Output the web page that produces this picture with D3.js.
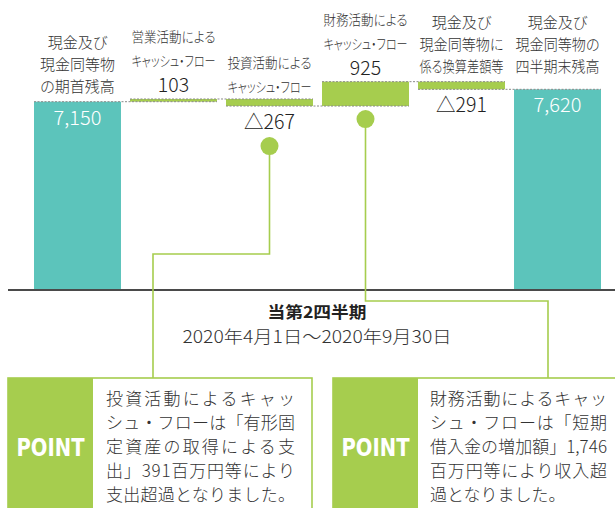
<!DOCTYPE html>
<html>
<head>
<meta charset="utf-8">
<title>キャッシュ・フロー</title>
<script src="https://d3js.org/d3.v7.min.js"></script>
<style>
 body { margin: 0; background: #fff; }
 svg text { font-family: "Noto Sans CJK JP", "Noto Sans", sans-serif; fill: #333; font-weight: 300; }
 .cat { font-feature-settings: "palt"; }
 .val { font-size: 19.5px; fill: #222; }
 .inval { font-size: 20px; fill: #fff; }
 .point { font-family: "Liberation Sans Narrow", "DejaVu Sans Condensed", "Roboto", sans-serif; font-weight: bold !important; fill: #fff; font-size: 25px; }
 .note { font-size: 17px; }
</style>
</head>
<body>
<div id="chart"></div>
<script>
// data
var cats = ["期首残高", "営業CF", "投資CF", "財務CF", "換算差額", "期末残高"];
var catLines = [
  ["現金及び", "現金同等物", "の期首残高"],
  ["営業活動による", "キャッシュ・フロー"],
  ["投資活動による", "キャッシュ・フロー"],
  ["財務活動による", "キャッシュ・フロー"],
  ["現金及び", "現金同等物に", "係る換算差額等"],
  ["現金及び", "現金同等物の", "四半期末残高"]
];
var kinds = ["total", "flow", "flow", "flow", "flow", "total"];
var values = [7150, 103, -267, 925, -291, 7620];
var valueLabels = ["7,150", "103", "△267", "925", "△291", "7,620"];
var periodTitle = "当第2四半期";
var periodRange = "2020年4月1日～2020年9月30日";
var point1 = ["投資活動によるキャッ", "シュ・フローは「有形固", "定資産の取得による支", "出」391百万円等により", "支出超過となりました。"];
var point2 = ["財務活動によるキャッ", "シュ・フローは「短期", "借入金の増加額」1,746", "百万円等により収入超", "過となりました。"];

var teal = "#5cc4bb", green = "#a6cd4e";
var W = 615, H = 508, baseY = 290;

var svg = d3.select("#chart").append("svg")
  .attr("width", W).attr("height", H);

var x = d3.scaleBand().domain(cats).range([34, 601]).paddingInner(0.094).paddingOuter(0);
var y = d3.scaleLinear().domain([0, 7150]).range([baseY, 101.7]);
var bw = x.bandwidth();

// running totals
var rows = [], run = 0;
values.forEach(function(v, i) {
  var s, e;
  if (kinds[i] == "total") { s = 0; e = v; run = v; }
  else { s = run; e = run + v; run = e; }
  rows.push({cat: cats[i], i: i, kind: kinds[i], v: v, s: s, e: e,
    top: y(Math.max(s, e)), bot: y(Math.min(s, e))});
});

// bars
svg.selectAll("rect.bar").data(rows).enter().append("rect")
  .attr("class", "bar")
  .attr("x", function(d) { return x(d.cat); })
  .attr("y", function(d) { return d.top; })
  .attr("width", bw)
  .attr("height", function(d) { return d.bot - d.top; })
  .attr("fill", function(d) { return d.kind == "total" ? teal : green; });

// dotted connectors
svg.selectAll("line.conn").data(rows.slice(0, -1)).enter().append("line")
  .attr("x1", function(d) { return x(d.cat); })
  .attr("x2", function(d) { return x(cats[d.i + 1]) + bw; })
  .attr("y1", function(d) { return y(d.e); })
  .attr("y2", function(d) { return y(d.e); })
  .attr("stroke", "#8a8a8a").attr("stroke-width", 1).attr("stroke-dasharray", "2,1.5");

// axis baseline
svg.append("line").attr("x1", 8).attr("x2", W).attr("y1", baseY).attr("y2", baseY)
  .attr("stroke", "#4a4a4a").attr("stroke-width", 2);

function fit(sel, maxW) {
  sel.each(function() {
    var len = this.getComputedTextLength();
    if (len > maxW) d3.select(this).attr("textLength", maxW).attr("lengthAdjust", "spacingAndGlyphs");
  });
}

// labels
rows.forEach(function(d) {
  var cx = x(d.cat) + bw / 2;
  var anchor = d.i > 0 ? Math.min(d.top, rows[d.i - 1].top) : d.top;
  var lines = catLines[d.i];
  var big = lines.length > 2;
  var fs = big ? 15 : 14, gap = big ? 22 : 23.5;
  var last;
  if (d.kind == "flow" && d.v > 0) {
    svg.append("text").attr("class", "val").attr("x", cx).attr("y", anchor - 7)
      .attr("text-anchor", "middle").text(valueLabels[d.i]);
    last = anchor - 33;
  } else {
    last = anchor - (big ? 10 : 7);
    if (d.kind == "flow") {
      svg.append("text").attr("class", "val").attr("x", cx).attr("y", d.bot + 23)
        .attr("text-anchor", "middle").text(valueLabels[d.i]);
    } else {
      svg.append("text").attr("class", "inval").attr("x", cx).attr("y", d.top + 23)
        .attr("text-anchor", "middle").text(valueLabels[d.i]);
    }
  }
  var t = svg.selectAll(null).data(lines).enter().append("text")
    .attr("class", "cat")
    .attr("x", cx)
    .attr("y", function(l, k) { return last - (lines.length - 1 - k) * gap; })
    .attr("text-anchor", "middle")
    .style("font-size", fs + "px")
    .text(function(l) { return l; });
  fit(t, bw - 3);
});

// period text
svg.append("text").attr("x", 317).attr("y", 318).attr("text-anchor", "middle")
  .attr("textLength", 99).attr("lengthAdjust", "spacingAndGlyphs")
  .style("font-size", "16px").style("font-weight", "bold").style("fill", "#222").text(periodTitle);
svg.append("text").attr("x", 317).attr("y", 343).attr("text-anchor", "middle")
  .attr("textLength", 269).attr("lengthAdjust", "spacingAndGlyphs")
  .style("font-size", "17.5px").text(periodRange);

// point boxes
function pointBox(x0, x1, lines, tx, tw, pin, elbowY, lineX) {
  var topY = 378;
  // connector
  var cx = x(pin.cat) + bw / 2;
  var cy = pin.v < 0 ? pin.bot + 40 : pin.bot + 13;
  svg.append("path")
    .attr("d", "M" + cx + "," + cy + "V" + elbowY + "H" + lineX + "V" + topY)
    .attr("fill", "none").attr("stroke", green).attr("stroke-width", 1.6);
  svg.append("circle").attr("cx", cx).attr("cy", cy).attr("r", 9).attr("fill", green);

  svg.append("rect").attr("x", x0).attr("y", topY).attr("width", x1 - x0).attr("height", H - topY + 10)
    .attr("fill", "none").attr("stroke", green).attr("stroke-width", 1.6);
  svg.append("rect").attr("x", x0).attr("y", topY).attr("width", 85).attr("height", H - topY + 10)
    .attr("fill", green);
  svg.append("text").attr("class", "point").attr("x", x0 + 42.5).attr("y", 456)
    .attr("text-anchor", "middle").attr("textLength", 68).attr("lengthAdjust", "spacingAndGlyphs")
    .text("POINT");
  svg.selectAll(null).data(lines).enter().append("text")
    .attr("class", "note")
    .attr("x", tx)
    .attr("y", function(l, k) { return 405 + k * 24; })
    .text(function(l) { return l; })
    .each(function() {
      var len = this.getComputedTextLength();
      if (len > tw * 0.85) d3.select(this).attr("textLength", tw).attr("lengthAdjust", "spacing");
    });
}
pointBox(8, 312, point1, 106, 189, rows[2], 254, 153);
pointBox(333, 640, point2, 430, 177, rows[3], 301, 548);
</script>
</body>
</html>
